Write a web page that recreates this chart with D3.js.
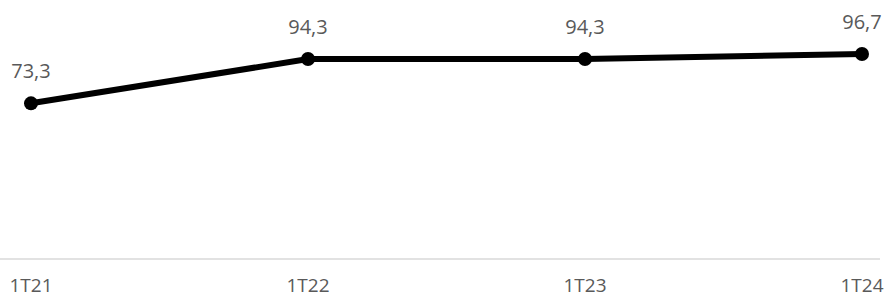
<!DOCTYPE html>
<html>
<head>
<meta charset="utf-8">
<script src="https://cdn.jsdelivr.net/npm/d3@7"></script>
<style>
body { margin: 0; background: #fff; }
text { font-family: "Open Sans", sans-serif; }
</style>
</head>
<body>
<script>
// data
var quarters = ["1T21", "1T22", "1T23", "1T24"]
var values = [73.3, 94.3, 94.3, 96.7]

var w = 887, h = 299
var svg = d3.select("body").append("svg")
.attr("width", w)
.attr("height", h)

var x = d3.scalePoint()
.domain(quarters)
.range([31, 862])
var y = d3.scaleLinear()
.domain([0, 100])
.range([258, 47])

// baseline
svg.append("line")
.attr("x1", 0)
.attr("x2", 880)
.attr("y1", y(0) + 1)
.attr("y2", y(0) + 1)
.attr("stroke", "#d9d9d9")
.attr("stroke-width", 1.5)

// category labels
svg.selectAll(".cat")
.data(quarters)
.enter().append("text")
.attr("class", "cat")
.attr("x", function(d) { return x(d) })
.attr("y", 292)
.attr("text-anchor", "middle")
.style("font-size", "19px")
.attr("fill", "#595959")
.text(function(d) { return d })

var line = d3.line()
.x(function(d, i) { return x(quarters[i]) })
.y(function(d) { return y(d) })

svg.append("path")
.datum(values)
.attr("d", line)
.attr("fill", "none")
.attr("stroke", "#000")
.attr("stroke-width", 6)

svg.selectAll(".dot")
.data(values)
.enter().append("circle")
.attr("class", "dot")
.attr("cx", function(d, i) { return x(quarters[i]) })
.attr("cy", function(d) { return y(d) })
.attr("r", 7)
.attr("fill", "#000")

svg.selectAll(".lbl")
.data(values)
.enter().append("text")
.attr("class", "lbl")
.attr("x", function(d, i) { return x(quarters[i]) })
.attr("y", function(d) { return y(d) - 25 })
.attr("text-anchor", "middle")
.style("font-size", "20px")
.attr("fill", "#595959")
.text(function(d) { return d.toFixed(1).replace(".", ",") })
</script>
</body>
</html>
